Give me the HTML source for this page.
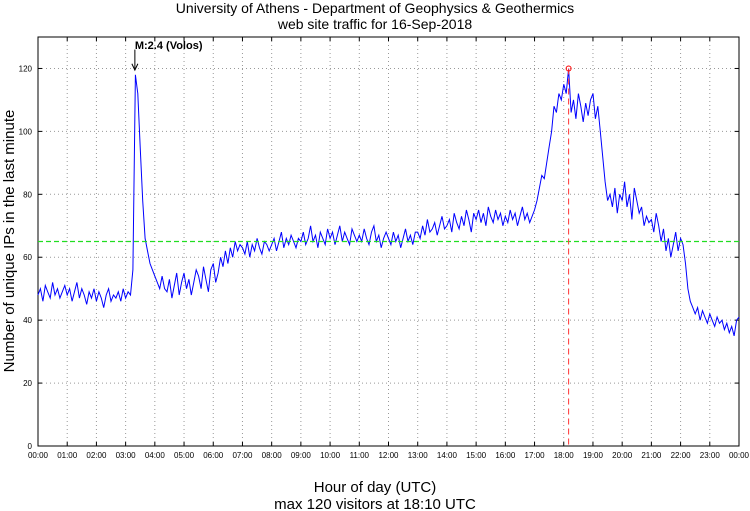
<!DOCTYPE html>
<html><head><meta charset="utf-8"><style>
body{margin:0;background:#fff;}
svg{display:block;font-family:"Liberation Sans",sans-serif;}
</style></head><body>
<svg id="chart" width="750" height="511">
<text x="375" y="13" font-size="14" text-anchor="middle">University of Athens - Department of Geophysics &amp; Geothermics</text>
<text x="375" y="29" font-size="14" text-anchor="middle">web site traffic for 16-Sep-2018</text>
<text x="375" y="492" font-size="15" text-anchor="middle">Hour of day (UTC)</text>
<text x="375" y="509" font-size="15" text-anchor="middle">max 120 visitors at 18:10 UTC</text>
<text transform="translate(14,241) rotate(-90)" font-size="15" text-anchor="middle">Number of unique IPs in the last minute</text>
<g id="grid"></g><g id="series"></g><g id="overlay"></g>
</svg>
<script>
const yTicks=[0,20,40,60,80,100,120];
const xTickLabels=["00:00","01:00","02:00","03:00","04:00","05:00","06:00","07:00","08:00","09:00","10:00","11:00","12:00","13:00","14:00","15:00","16:00","17:00","18:00","19:00","20:00","21:00","22:00","23:00","00:00"];
const visitors=[
48,50,46,51,49,47,52,48,50,47,49,51,
48,50,46,49,52,47,50,48,45,49,47,50,
46,49,47,44,48,50,46,48,47,49,46,50,
47,49,48,56,118,112,95,78,66,62,58,56,
54,52,50,54,50,49,53,47,51,55,48,52,
55,50,53,48,52,56,54,50,57,53,49,56,
58,52,55,60,57,62,58,63,60,65,62,64,
63,61,65,60,64,62,66,63,61,65,64,62,
64,66,62,65,68,63,66,64,67,65,63,66,
65,68,64,66,70,65,67,63,68,66,64,69,
66,68,64,67,70,65,68,66,64,69,67,65,
67,65,69,66,64,68,70,65,67,63,66,68,
66,64,68,65,67,63,66,69,65,67,64,68,
68,66,70,67,72,68,69,71,67,70,73,69,
70,72,68,74,71,69,73,70,75,72,68,74,
72,75,71,74,70,76,73,71,75,72,74,70,
73,71,75,72,74,70,73,76,72,74,71,73,
75,78,82,86,85,90,95,100,108,106,112,110,
115,112,120,106,110,104,112,108,103,109,105,110,
112,104,108,100,92,84,78,80,76,82,74,80,
78,84,76,80,72,82,78,74,76,70,73,71,
72,68,74,70,65,69,62,66,60,64,68,62,
66,64,58,50,46,44,42,44,40,43,41,39,
42,40,38,41,39,40,37,39,36,38,35,40,41];
const stepMinutes=5;
const meanLevel=65;
const maxValue=120, maxMinute=18*60+10;
const quakeMinute=3*60+19, quakeLabel="M:2.4 (Volos)";

const L=38,R=739,T=37,B=446,yMax=130;
const X=m=>L+(R-L)*m/1440;
const Y=v=>B-(B-T)*v/yMax;
const NS="http://www.w3.org/2000/svg";
function mk(tag,attrs,parent){const e=document.createElementNS(NS,tag);for(const k in attrs)e.setAttribute(k,attrs[k]);parent.appendChild(e);return e;}
const grid=document.getElementById('grid'),ser=document.getElementById('series'),ov=document.getElementById('overlay');
mk('rect',{x:L,y:T,width:R-L,height:B-T,fill:'none',stroke:'#000','stroke-width':1},grid);
yTicks.forEach(v=>{
  if(v>0&&v<yMax){const g=mk('line',{x1:L,x2:R,y1:Y(v),y2:Y(v),stroke:'#999','stroke-dasharray':'1,3'},grid);
  
  }
  const t=mk('text',{x:L-6,y:Y(v)+3,'font-size':8,'text-anchor':'end'},grid);t.textContent=v;
  
  
  mk('line',{x1:L,x2:L+4,y1:Y(v),y2:Y(v),stroke:'#000'},grid);
  mk('line',{x1:R,x2:R-4,y1:Y(v),y2:Y(v),stroke:'#000'},grid);
});
xTickLabels.forEach((lab,i)=>{
  const x=X(i*60);
  if(i>0&&i<24){const g=mk('line',{x1:x,x2:x,y1:T,y2:B,stroke:'#999','stroke-dasharray':'1,3'},grid);
  
  }
  mk('line',{x1:x,x2:x,y1:B,y2:B-4,stroke:'#000'},grid);
  mk('line',{x1:x,x2:x,y1:T,y2:T+4,stroke:'#000'},grid);
  const t=mk('text',{x:x,y:B+12,'font-size':8,'text-anchor':'middle'},grid);t.textContent=lab;
  
  
});
const ml=mk('line',{x1:L,x2:R,y1:Y(meanLevel),y2:Y(meanLevel),stroke:'#22dd22','stroke-width':1.2,'stroke-dasharray':'5,3'},ov);


const pts=visitors.map((v,i)=>X(i*stepMinutes).toFixed(1)+','+Y(v).toFixed(1)).join(' ');
const pl=mk('polyline',{points:pts,fill:'none',stroke:'#00f','stroke-width':1},ser);


const vl=mk('line',{x1:X(maxMinute),x2:X(maxMinute),y1:Y(maxValue),y2:B,stroke:'#f33','stroke-dasharray':'6,4'},ov);


const mc=mk('circle',{cx:X(maxMinute),cy:Y(maxValue),r:2.5,fill:'none',stroke:'#f00'},ov);


const qx=X(quakeMinute);
mk('line',{x1:qx,x2:qx,y1:Y(126),y2:Y(119.5),stroke:'#000'},ov);
mk('path',{d:`M${qx-3},${Y(121.5)} L${qx},${Y(119.5)} L${qx+3},${Y(121.5)}`,fill:'none',stroke:'#000'},ov);
const ql=mk('text',{x:qx,y:Y(125.5)-2,'font-size':11,'font-weight':'bold'},ov);ql.textContent=quakeLabel;


</script>
</body></html>
